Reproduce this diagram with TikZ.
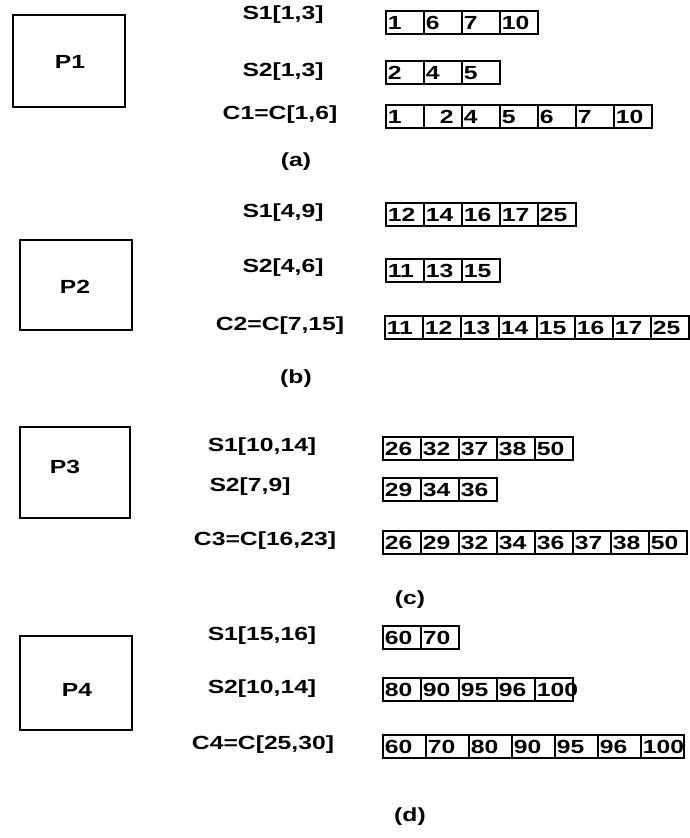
\documentclass[tikz,border=0pt]{standalone}
\usepackage{fontspec}
\newfontfamily\lblfont{Liberation Sans}[FakeStretch=1.3]
\newcommand\cellrow[5]{%
  \foreach \v [count=\i] in {#5} {%
    \node[cellbox, text width=#4] (#1-\i) at ({#2+(\i-1)*(#4+4)},#3) {\v};}}
\begin{document}
\begin{tikzpicture}[x=1pt,y=-1pt,
  every node/.style={font=\lblfont\bfseries\fontsize{19}{22}\selectfont},
  pbox/.style={draw, line width=1.5pt, inner sep=0pt},
  cellbox/.style={draw, line width=1.6pt, anchor=north west, minimum height=23pt,
    inner xsep=2pt, inner ysep=0pt, align=left, text height=14pt, text depth=0pt},
  lbl/.style={inner sep=0pt, anchor=center}]
\useasboundingbox (0,0) rectangle (690,838);

% ---------- (a)
\draw[pbox] (13,15) rectangle (125,107);
\node[lbl] (p1) at (70,62) {P1};
\node[lbl] (la1) at (283,15) {S1[1,3]};
\node[lbl] (la2) at (283,72) {S2[1,3]};
\node[lbl] (la3) at (280,115) {C1=C[1,6]};
\node[lbl] (capa) at (296,162) {(a)};
\cellrow{a1}{385}{10}{34}{1,6,7,10}
\cellrow{a2}{385}{60}{34}{2,4,5}
\cellrow{a3}{385}{104}{34}{1,{\hspace*{14pt}2},4,5,6,7,10}

% ---------- (b)
\draw[pbox] (20,240) rectangle (132,330);
\node[lbl] (p2) at (75,287) {P2};
\node[lbl] (lb1) at (283,213) {S1[4,9]};
\node[lbl] (lb2) at (283,268) {S2[4,6]};
\node[lbl] (lb3) at (280,326) {C2=C[7,15]};
\node[lbl] (capb) at (296,379) {(b)};
\cellrow{b1}{385}{202}{34}{12,14,16,17,25}
\cellrow{b2}{385}{258}{34}{11,13,15}
\cellrow{b3}{384}{315}{34}{11,12,13,14,15,16,17,25}

% ---------- (c)
\draw[pbox] (20,427) rectangle (130,518);
\node[lbl] (p3) at (65,467) {P3};
\node[lbl] (lc1) at (262,447) {S1[10,14]};
\node[lbl] (lc2) at (250,487) {S2[7,9]};
\node[lbl] (lc3) at (265,541) {C3=C[16,23]};
\node[lbl] (capc) at (410,600) {(c)};
\cellrow{c1}{382}{436}{34}{26,32,37,38,50}
\cellrow{c2}{382}{477}{34}{29,34,36}
\cellrow{c3}{382}{530}{34}{26,29,32,34,36,37,38,50}

% ---------- (d)
\draw[pbox] (20,636) rectangle (132,730);
\node[lbl] (p4) at (77,690) {P4};
\node[lbl] (ld1) at (262,636) {S1[15,16]};
\node[lbl] (ld2) at (262,689) {S2[10,14]};
\node[lbl] (ld3) at (263,745) {C4=C[25,30]};
\node[lbl] (capd) at (410,817) {(d)};
\cellrow{d1}{382}{625}{34}{60,70}
\cellrow{d2}{382}{677}{34}{80,90,95,96,100}
\cellrow{d3}{382}{734}{39}{60,70,80,90,95,96,100}
\end{tikzpicture}
\end{document}
